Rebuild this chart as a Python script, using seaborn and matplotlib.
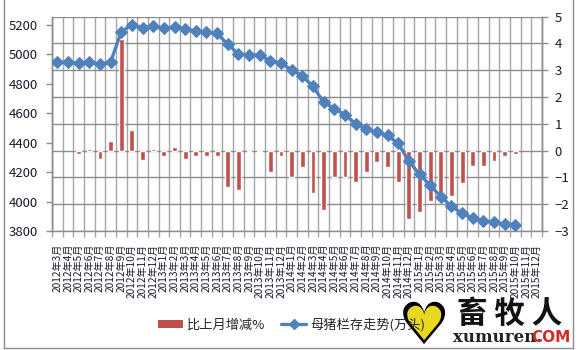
import numpy as np
import pandas as pd
import matplotlib
matplotlib.use("Agg")
import matplotlib.pyplot as plt
import seaborn as sns
from matplotlib.patches import Patch
from matplotlib.lines import Line2D

sns.set_theme(style="white")
plt.rcParams['font.family'] = ['Noto Sans CJK SC', 'DejaVu Sans']

# ---- data ----
years = [2012] * 10 + [2013] * 12 + [2014] * 12 + [2015] * 12
months = list(range(3, 13)) + list(range(1, 13)) * 3
labels = [f"{y}年{m}月" for y, m in zip(years, months)]

sow_stock = [4947, 4947, 4940, 4947, 4933, 4947, 5153, 5203, 5180, 5192,
             5176, 5187, 5170, 5160, 5153, 5142, 5068, 5003, 4996, 4996,
             4955, 4940, 4895, 4854, 4782, 4676, 4631, 4591, 4528, 4494,
             4471, 4449, 4395, 4275, 4185, 4111, 4034, 3967, 3920, 3888,
             3870, 3859, 3847, 3843, np.nan, np.nan]

mom_change = [np.nan, np.nan, -0.11, 0.07, -0.30, 0.37, 4.18, 0.78, -0.34, 0.07,
              -0.21, 0.12, -0.30, -0.21, -0.21, -0.21, -1.37, -1.46, -0.06, -0.06,
              -0.81, -0.21, -1.00, -0.62, -1.59, -2.20, -1.00, -1.00, -1.18, -0.81,
              -0.44, -0.62, -1.18, -2.54, -2.30, -1.89, -1.62, -1.70, -1.22, -0.59,
              -0.59, -0.40, -0.21, -0.11, np.nan, np.nan]

bar_name = "比上月增减%"
line_name = "母猪栏存走势(万头)"

df = pd.DataFrame({"label": labels, "pos": np.arange(len(labels)),
                   "stock": sow_stock, "change": mom_change})
n = len(labels)

# ---- figure ----
W, H = 578, 350
fig = plt.figure(figsize=(W / 100, H / 100), dpi=100)

# chart-area frame (background axes, only its spines are shown)
bg = fig.add_axes([3.5 / W, 2.5 / H, 569 / W, 1.0])
bg.set_zorder(-5)
bg.set_xticks([])
bg.set_yticks([])
bg.patch.set_facecolor("white")
for s in ["left", "right", "bottom"]:
    bg.spines[s].set_color("#8c8c8c")
    bg.spines[s].set_linewidth(1.0)
bg.spines["top"].set_visible(False)

ax = fig.add_axes([52 / W, 1 - 231 / H, (542 - 52) / W, (231 - 16.7) / H])
ax.set_facecolor("white")
ax2 = ax.twinx()
ax2.set_zorder(ax.get_zorder() + 1)
ax2.patch.set_visible(False)

# bars (secondary scale, lower axes)
sns.barplot(data=df, x="pos", y="change", color="#C0504D", saturation=1,
            width=0.45, ax=ax, order=list(range(n)), zorder=3)

# line (primary scale, upper axes)
sns.lineplot(data=df, x="pos", y="stock", ax=ax2, color="#4F81BD", lw=2.4,
             marker="D", markersize=6, markeredgecolor="#4F81BD", zorder=5)

# --- bar axes styling (right scale) ---
ax.set_ylim(-3, 5)
ax.set_yticks(range(-3, 6))
ax.yaxis.set_ticks_position("right")
ax.set_xlim(-0.5, n - 0.5)
ax.set_xticks(range(n))
ax.set_xticklabels(labels, rotation=90, fontsize=7.3, va="top", ha="center",
                   color="#1a1a2e")
ax.set_xticks(np.arange(-0.5, n, 1), minor=True)
ax.tick_params(axis="x", which="major", length=0, pad=9, bottom=True)
ax.tick_params(axis="x", which="minor", length=4, color="#a5a5a5", width=1,
               bottom=True)
ax.tick_params(axis="y", which="major", length=4, color="#8c8c8c", width=1,
               labelsize=9.5, labelcolor="#1a1a2e", direction="out", pad=5,
               right=True, labelright=True, left=False, labelleft=False)
ax.set_xlabel("")
ax.set_ylabel("")
for s in ["left", "right", "bottom"]:
    ax.spines[s].set_color("#8c8c8c")
    ax.spines[s].set_linewidth(1.0)
ax.spines["top"].set_visible(False)

# --- line axes styling (left scale) ---
ax2.set_ylim(3800, 5256)
ax2.set_yticks(range(3800, 5201, 200))
ax2.yaxis.set_ticks_position("left")
ax2.tick_params(axis="y", length=4, color="#8c8c8c", width=1, labelsize=9.5,
                labelcolor="#1a1a2e", direction="out", pad=6,
                left=True, labelleft=True, right=False, labelright=False)
ax2.set_xlim(-0.5, n - 0.5)
ax2.set_xlabel("")
ax2.set_ylabel("")
ax2.spines["top"].set_visible(False)
ax2.spines["bottom"].set_visible(False)
ax2.spines["left"].set_color("#8c8c8c")
ax2.spines["right"].set_color("#8c8c8c")
ax2.spines["left"].set_linewidth(1.0)
ax2.spines["right"].set_linewidth(1.0)

# gridlines on the lower axes (below bars)
ax.set_axisbelow(True)
ax.yaxis.grid(True, which="major", color="#8c8c8c", lw=1.0)
ax.xaxis.grid(True, which="minor", color="#a5a5a5", lw=1.0)

# legend
handles = [Patch(facecolor="#C0504D", edgecolor="none"),
           Line2D([0], [0], color="#4F81BD", lw=2.4, marker="D", markersize=5)]
fig.legend(handles, [bar_name, line_name], ncol=2, frameon=False,
           loc="center left", bbox_to_anchor=(146 / W, 1 - 325 / H),
           fontsize=9.5, handlelength=1.9, handleheight=0.55, columnspacing=1.2,
           handletextpad=0.3)

# watermark logo
fig.text(424 / W, 1 - 327 / H, "♥", fontsize=42, color="black", ha="center",
         va="center", family="DejaVu Sans")
fig.text(424 / W, 1 - 328 / H, "♥", fontsize=34, color="#e8d820", ha="center",
         va="center", family="DejaVu Sans")
fig.text(510 / W, 1 - 314 / H, "畜 牧 人", fontsize=22, fontweight="bold",
         color="#111111", ha="center", va="center")
fig.text(453 / W, 1 - 338 / H, "xumuren.", fontsize=12, fontweight="bold",
         family="DejaVu Serif", color="#222222", ha="left", va="center")
fig.text(531 / W, 1 - 338 / H, "COM", fontsize=11, fontweight="bold",
         family="DejaVu Sans", color="#d42a2a", ha="left", va="center")

fig.savefig("out.png", dpi=100)
